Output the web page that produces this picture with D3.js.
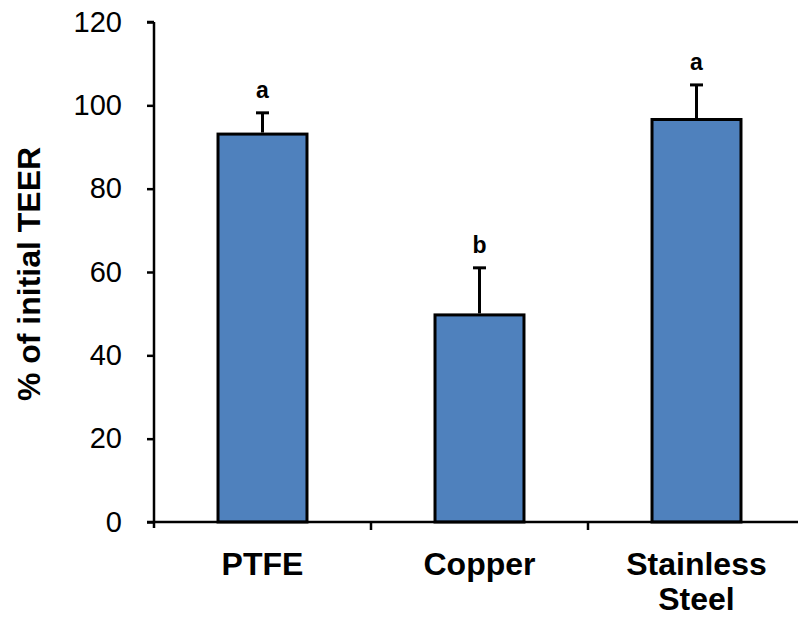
<!DOCTYPE html>
<html>
<head>
<meta charset="utf-8">
<script src="https://cdn.jsdelivr.net/npm/d3@7/dist/d3.min.js"></script>
<style>
  html, body { margin: 0; padding: 0; background: #fff; }
  svg { display: block; font-family: "Liberation Sans", Arial, sans-serif; }
</style>
</head>
<body>
<svg id="chart" width="798" height="619"></svg>
<script>
// Materials tested and their TEER retention (mean ± SD, % of initial)
const categories = ["PTFE", "Copper", "Stainless Steel"];
const means = [93.1, 49.7, 96.6];
const errors = [5.1, 11.3, 8.3];
const groupLetters = ["a", "b", "a"];
const yTicks = [0, 20, 40, 60, 80, 100, 120];

const svg = d3.select("#chart");
const margin = { left: 154, top: 22, right: -7, bottom: 97 };
const W = 798, H = 619;

const x = d3.scaleBand()
  .domain(categories)
  .range([margin.left, W - margin.right])
  .paddingInner(0.59)
  .paddingOuter(0.295);

const y = d3.scaleLinear().domain([0, 120]).range([H - margin.bottom, margin.top]);

// bars
svg.append("g").selectAll("rect")
  .data(categories)
  .join("rect")
  .attr("x", d => x(d))
  .attr("y", (d, i) => y(means[i]))
  .attr("width", x.bandwidth())
  .attr("height", (d, i) => y(0) - y(means[i]))
  .attr("fill", "#4F81BD")
  .attr("stroke", "#000")
  .attr("stroke-width", 3);

// upper error bars
const eg = svg.append("g").attr("stroke", "#000").attr("stroke-width", 3);
categories.forEach((c, i) => {
  const cx = x(c) + x.bandwidth() / 2;
  eg.append("line")
    .attr("x1", cx).attr("x2", cx)
    .attr("y1", y(means[i]) - 1.5).attr("y2", y(means[i] + errors[i]));
  eg.append("line")
    .attr("x1", cx - 6.5).attr("x2", cx + 6.5)
    .attr("y1", y(means[i] + errors[i])).attr("y2", y(means[i] + errors[i]));
});

// significance letters
svg.append("g").selectAll("text")
  .data(categories)
  .join("text")
  .attr("x", d => x(d) + x.bandwidth() / 2)
  .attr("y", (d, i) => y(means[i] + errors[i]) - 15)
  .attr("text-anchor", "middle")
  .attr("font-size", 23)
  .attr("font-weight", "bold")
  .text((d, i) => groupLetters[i]);

// y axis
const yAxis = svg.append("g")
  .attr("transform", `translate(${margin.left},0)`)
  .call(d3.axisLeft(y).tickValues(yTicks).tickSize(7).tickPadding(25));
yAxis.select(".domain").attr("d", `M0,${y(120)}H-7M0,${y(120)}V${y(0) + 6}`).attr("stroke-width", 2.5);
yAxis.selectAll(".tick line").attr("stroke-width", 2.5);
yAxis.selectAll(".tick text")
  .attr("font-size", 29)
  .attr("fill", "#000")
  .attr("font-family", "Liberation Sans, Arial, sans-serif");

// x axis with ticks between categories
const xAxisY = y(0);
const xg = svg.append("g").attr("stroke", "#000").attr("stroke-width", 2.5);
xg.append("line").attr("x1", margin.left - 7).attr("x2", W).attr("y1", xAxisY).attr("y2", xAxisY);
const step = x.step();
categories.slice(1).forEach(c => {
  const bx = x(c) - x.paddingInner() * step / 2;
  xg.append("line").attr("x1", bx).attr("x2", bx).attr("y1", xAxisY).attr("y2", xAxisY + 8);
});

// category labels
const cl = svg.append("g").selectAll("text")
  .data(categories)
  .join("text")
  .attr("x", d => x(d) + x.bandwidth() / 2)
  .attr("y", 575)
  .attr("text-anchor", "middle")
  .attr("font-size", 32)
  .attr("font-weight", "bold");
cl.each(function(d) {
  const words = d.split(" ");
  const t = d3.select(this);
  const cx = t.attr("x");
  words.forEach((w, k) => {
    t.append("tspan").attr("x", cx).attr("dy", k === 0 ? 0 : 35).text(w);
  });
});

// y axis title
svg.append("text")
  .attr("transform", `translate(40,${(y(0) + y(120)) / 2 + 2}) rotate(-90)`)
  .attr("text-anchor", "middle")
  .attr("font-size", 32)
  .attr("font-weight", "bold")
  .text("% of initial TEER");
</script>
</body>
</html>
